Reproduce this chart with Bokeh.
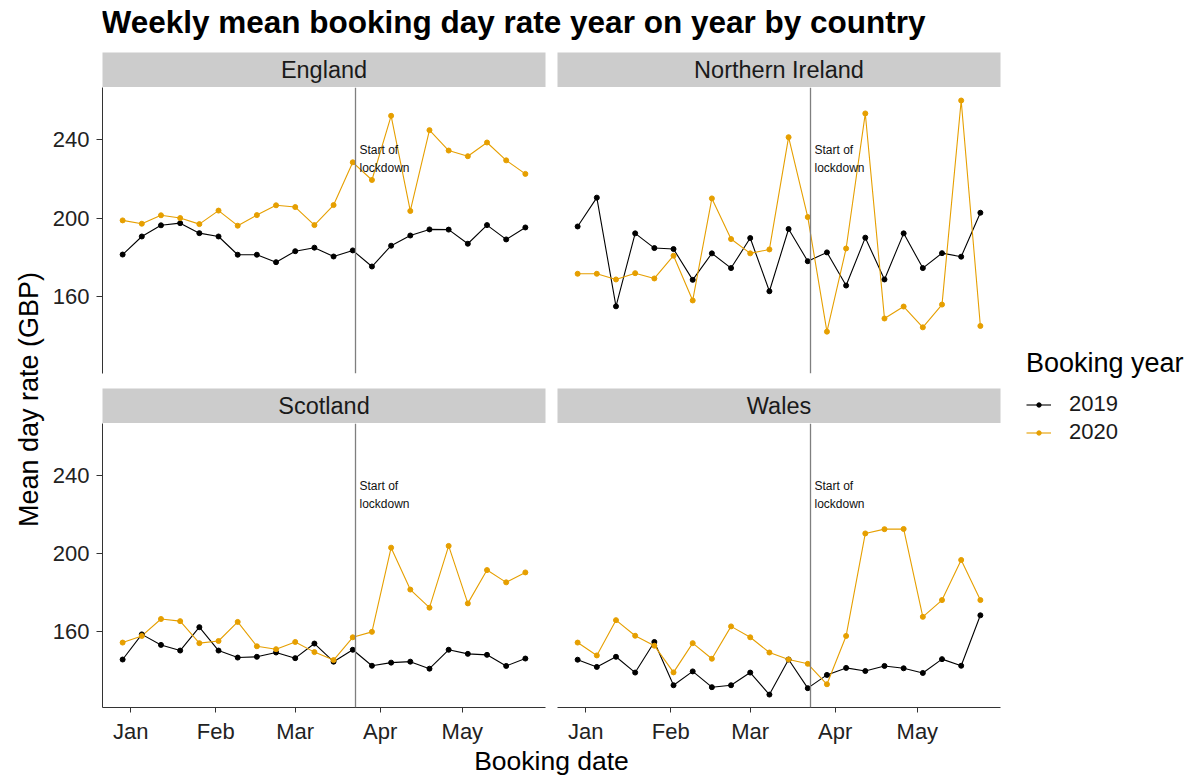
import pandas as pd
from math import pi
from bokeh.plotting import figure
from bokeh.models import ColumnDataSource, Range1d, FixedTicker, Span, Legend, LegendItem
from bokeh.layouts import row, column
from bokeh.embed import file_html
from bokeh.resources import INLINE
from bokeh.core.properties import value

# ---------------- data ----------------
week_starts = ["2019-12-29", "2020-01-05", "2020-01-12", "2020-01-19", "2020-01-26",
               "2020-02-02", "2020-02-09", "2020-02-16", "2020-02-23", "2020-03-01",
               "2020-03-08", "2020-03-15", "2020-03-22", "2020-03-29", "2020-04-05",
               "2020-04-12", "2020-04-19", "2020-04-26", "2020-05-03", "2020-05-10",
               "2020-05-17", "2020-05-24"]

england_2019 = [181.4, 190.6, 196.3, 197.4, 192.3, 190.6, 181.3, 181.3, 177.5, 183.1, 184.9,
                180.4, 183.5, 175.3, 185.9, 191.1, 194.2, 194.1, 186.9, 196.4, 189.1, 195.2]
england_2020 = [198.8, 197.1, 201.4, 200.0, 196.9, 203.8, 196.1, 201.5, 206.5, 205.6, 196.4,
                206.6, 228.4, 219.4, 252.1, 203.6, 244.8, 234.4, 231.5, 238.5, 229.4, 222.5]
ni_2019 = [195.7, 210.4, 155.0, 192.2, 184.7, 184.2, 168.5, 182.0, 174.5, 189.8, 162.7,
           194.4, 178.0, 182.5, 165.6, 190.0, 168.7, 192.2, 174.5, 182.1, 180.3, 202.7]
ni_2020 = [171.6, 171.6, 168.7, 171.9, 169.2, 180.8, 158.0, 210.0, 189.3, 182.0, 184.0,
           241.2, 200.5, 142.1, 184.5, 253.3, 148.8, 154.9, 144.3, 155.9, 259.9, 145.0]
scotland_2019 = [145.4, 158.3, 152.9, 150.0, 162.0, 150.0, 146.4, 146.8, 149.0, 146.1, 153.6,
                 144.3, 150.4, 142.2, 143.8, 144.3, 140.7, 150.4, 148.3, 147.8, 142.1, 145.9]
scotland_2020 = [154.1, 157.5, 166.2, 165.1, 153.8, 154.9, 164.7, 152.2, 150.7, 154.4, 149.2,
                 145.1, 156.8, 159.6, 202.8, 181.3, 172.0, 203.7, 174.2, 191.3, 185.0, 190.1]
wales_2019 = [145.3, 141.6, 146.8, 138.7, 154.4, 132.2, 139.3, 131.2, 132.2, 138.7, 127.4,
              145.4, 130.7, 137.5, 141.1, 139.5, 142.1, 140.9, 138.5, 145.6, 142.2, 168.1]
wales_2020 = [154.1, 147.5, 165.6, 157.6, 152.5, 138.8, 153.8, 145.8, 162.4, 156.8, 149.0,
              145.4, 143.2, 132.7, 157.5, 210.1, 212.3, 212.4, 167.3, 175.9, 196.5, 175.9]

countries = ["England", "Northern Ireland", "Scotland", "Wales"]
series = {
    "England": (england_2019, england_2020),
    "Northern Ireland": (ni_2019, ni_2020),
    "Scotland": (scotland_2019, scotland_2020),
    "Wales": (wales_2019, wales_2020),
}
years = ["2019", "2020"]
year_colors = ["#000000", "#E69F00"]

month_ticks = ["2020-01-01", "2020-02-01", "2020-03-01", "2020-04-01", "2020-05-01"]
month_labels = ["Jan", "Feb", "Mar", "Apr", "May"]
y_ticks = [160, 200, 240]

lockdown_date = "2020-03-23"
annotation_lines = ["Start of", "lockdown"]
annotation_y = 230

title_text = "Weekly mean booking day rate year on year by country"
x_title = "Booking date"
y_title = "Mean day rate (GBP)"
legend_title = "Booking year"

# ---------------- helpers ----------------
FONT = "Liberation Sans"
dates = pd.to_datetime(week_starts)


def ms(ts):
    return pd.Timestamp(ts).value / 1e6


d_min, d_max = ms(dates.min()), ms(dates.max())
xpad = 0.05 * (d_max - d_min)
xr = Range1d(d_min - xpad, d_max + xpad)

all_vals = [v for c in countries for s in series[c] for v in s]
vmin, vmax = min(all_vals), max(all_vals)
ypad = 0.05 * (vmax - vmin)
yr = Range1d(vmin - ypad, vmax + ypad)

ann_src = ColumnDataSource(dict(
    x=pd.to_datetime([lockdown_date] * len(annotation_lines)),
    y=[annotation_y] * len(annotation_lines),
    text=annotation_lines,
    yo=[-9, 9],
))


def style_axis(ax, tick_len, standoff):
    ax.axis_line_color = "#333333"
    ax.axis_line_width = 1
    ax.major_tick_line_color = "#333333"
    ax.major_tick_out = tick_len
    ax.major_tick_in = 0
    ax.minor_tick_out = 0
    ax.minor_tick_in = 0
    ax.major_label_text_font = FONT
    ax.major_label_text_font_size = "22px"
    ax.major_label_text_color = "#222222"
    ax.major_label_standoff = standoff


def panel(country, width, height, bl, br, bb, left_axis, bottom_axis):
    p = figure(width=width, height=height, x_range=xr, y_range=yr,
               x_axis_type="datetime",
               x_axis_location="below" if bottom_axis else None,
               y_axis_location="left" if left_axis else None,
               output_backend="svg", toolbar_location=None, title=None,
               min_border_left=bl, min_border_right=br, min_border_top=0,
               min_border_bottom=bb, outline_line_color=None,
               background_fill_color="white", border_fill_color="white")
    p.grid.visible = False
    src = ColumnDataSource(dict(date=dates, y2019=series[country][0], y2020=series[country][1]))
    for yname, col in zip(years, year_colors):
        p.line(x="date", y="y" + yname, source=src, line_color=col, line_width=1.1)
    for yname, col in zip(years, year_colors):
        p.scatter(x="date", y="y" + yname, source=src, size=5, fill_color=col, line_color=col)
    p.add_layout(Span(location=ms(lockdown_date), dimension="height",
                      line_color="#7f7f7f", line_width=1.3))
    p.text(x="x", y="y", text="text", y_offset="yo", x_offset=4, source=ann_src,
           text_font=value(FONT), text_font_size="12px", text_color="#111111",
           text_align="left", text_baseline="middle")
    if left_axis:
        ax = p.yaxis[0]
        ax.ticker = FixedTicker(ticks=y_ticks)
        style_axis(ax, 6, 7)
    if bottom_axis:
        ax = p.xaxis[0]
        tick_ms = [ms(t) for t in month_ticks]
        ax.ticker = FixedTicker(ticks=tick_ms)
        ax.major_label_overrides = {t: lab for t, lab in zip(tick_ms, month_labels)}
        style_axis(ax, 5, 6)
    return p


def strip(name, width, bl, br):
    s = figure(width=width, height=35, x_range=Range1d(0, 1), y_range=Range1d(0, 1),
               x_axis_location=None, y_axis_location=None, title=None,
               output_backend="svg", toolbar_location=None,
               min_border_left=bl, min_border_right=br, min_border_top=0, min_border_bottom=0,
               background_fill_color="#cccccc", border_fill_color="white",
               outline_line_color=None)
    s.grid.visible = False
    s.text(x=[0.5], y=[0.5], text=[name], text_align="center", text_baseline="middle",
           text_font=value(FONT), text_font_size="23.5px", text_color="#1a1a1a")
    return s


def text_fig(width, height, bl=0, br=0, x_end=1):
    f = figure(width=width, height=height, x_range=Range1d(0, x_end), y_range=Range1d(0, height),
               x_axis_location=None, y_axis_location=None, title=None,
               output_backend="svg", toolbar_location=None,
               min_border_left=bl, min_border_right=br, min_border_top=0, min_border_bottom=0,
               background_fill_color="white", border_fill_color="white",
               outline_line_color=None)
    f.grid.visible = False
    return f


# ---------------- figures ----------------
YW, LW, RW, GW = 48, 503, 455, 178
TITLE_H, STRIP_H, TOP_H, BOT_H, XLAB_H = 52, 35, 301, 323, 30
MID_H = STRIP_H + TOP_H + STRIP_H + BOT_H

title_fig = text_fig(1184, TITLE_H, bl=102, br=184)
title_fig.text(x=[0], y=[31], text=[title_text], text_align="left", text_baseline="middle",
               text_font=value(FONT), text_font_size="31.5px", text_font_style="bold",
               text_color="black", x_offset=-1)

# rotated y title, centred between the two panel rows
ylab_fig = text_fig(YW, MID_H, x_end=YW)
ylab_fig.text(x=[28], y=[MID_H - 347], text=[y_title], angle=pi / 2, text_align="center",
              text_baseline="middle", text_font=value(FONT), text_font_size="27px",
              text_color="black")

xlab_fig = text_fig(1184, XLAB_H, bl=102, br=184)
xlab_fig.text(x=[0.5], y=[15.2], text=[x_title], text_align="center", text_baseline="middle",
              text_font=value(FONT), text_font_size="26.5px", text_color="black")

strip_e = strip("England", LW, 54, 6)
strip_ni = strip("Northern Ireland", RW, 6, 6)
strip_s = strip("Scotland", LW, 54, 6)
strip_w = strip("Wales", RW, 6, 6)

fig_e = panel("England", LW, TOP_H, 54, 6, 15, True, False)
fig_ni = panel("Northern Ireland", RW, TOP_H, 6, 6, 15, False, False)
fig_s = panel("Scotland", LW, BOT_H, 54, 6, BOT_H - 286, True, True)
fig_w = panel("Wales", RW, BOT_H, 6, 6, BOT_H - 286, False, True)

# legend panel: the series are drawn outside this panel's view, only the key is seen.
# its top/bottom borders equal the y-title panel's, so the row keeps both frames full height
leg_fig = figure(width=GW, height=MID_H, x_range=Range1d(0, 1),
                 y_range=Range1d(0, 1), x_axis_location=None, y_axis_location=None, title=None,
                 output_backend="svg", toolbar_location=None,
                 min_border_left=0, min_border_right=0, min_border_top=0, min_border_bottom=0,
                 background_fill_color="white", border_fill_color="white",
                 outline_line_color=None)
leg_fig.grid.visible = False
leg_src = ColumnDataSource(dict(date=dates, y2019=england_2019, y2020=england_2020))
items = []
for yname, col in zip(years, year_colors):
    r1 = leg_fig.line(x="date", y="y" + yname, source=leg_src, line_color=col, line_width=1.1)
    r2 = leg_fig.scatter(x="date", y="y" + yname, source=leg_src, size=5,
                         fill_color=col, line_color=col)
    items.append(LegendItem(label=yname, renderers=[r1, r2]))
legend = Legend(items=items, location=(20, 301), title=legend_title,
                border_line_color=None, background_fill_alpha=0, padding=0, margin=0,
                title_text_font=FONT, title_text_font_size="27px", title_text_font_style="normal",
                title_text_color="black", title_standoff=12,
                label_text_font=FONT, label_text_font_size="22px", label_text_color="#1a1a1a",
                glyph_width=25, glyph_height=11, label_height=26, label_standoff=18, spacing=2)
leg_fig.add_layout(legend)

layout = column(
    title_fig,
    row(
        ylab_fig,
        column(row(strip_e, strip_ni), row(fig_e, fig_ni), row(strip_s, strip_w), row(fig_s, fig_w)),
        leg_fig,
    ),
    xlab_fig,
)

with open("out.html", "w") as fh:
    fh.write(file_html(layout, INLINE, "Weekly mean booking day rate"))
